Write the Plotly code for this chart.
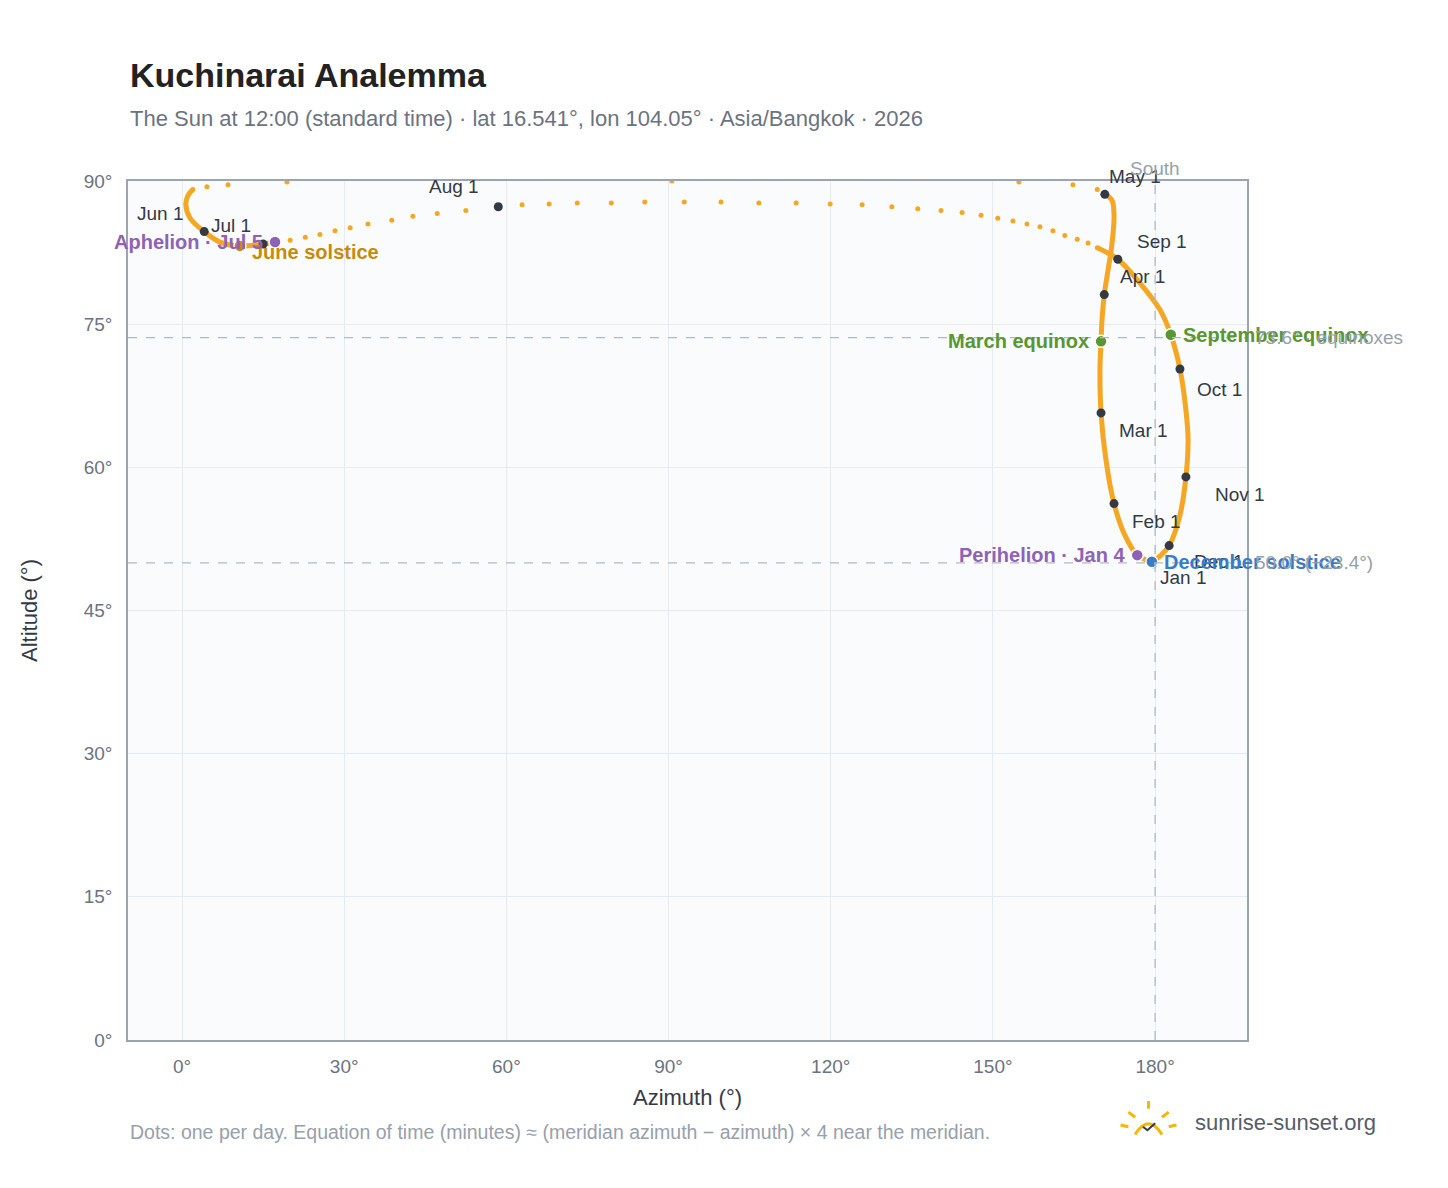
import plotly.graph_objects as go

# daily noon sun positions (azimuth, altitude)
dense_left_az = [179.4, 176.7, 174.4, 172.4, 170.9, 170.0, 169.8, 170.0, 170.2, 170.6, 171.3, 172.0, 172.4, 172.0, 170.7]
dense_left_alt = [50.1, 50.8, 52.9, 56.2, 60.8, 65.7, 70.2, 73.2, 75.6, 78.1, 80.7, 83.3, 86.4, 88.0, 88.6]
may_az = [169.3, 164.8, 154.8, 90.6, 19.4, 8.5, 4.6, 2.0]
may_alt = [89.1, 89.6, 89.9, 90.0, 89.9, 89.6, 89.4, 89.1]
curl_az = [2.0, 1.1, 0.7, 1.5, 4.1, 7.0, 10.7, 15.0, 17.2]
curl_alt = [89.1, 88.5, 87.5, 86.1, 84.7, 83.6, 83.2, 83.4, 83.6]
summer_az = [20.0, 22.8, 25.5, 28.3, 31.1, 34.4, 38.8, 42.7, 47.2, 52.5, 58.5, 62.9, 67.9, 73.1, 79.4,
             85.6, 92.9, 99.7, 106.7, 113.6, 119.9, 125.8, 131.3, 136.1, 140.4, 144.3, 147.8, 150.9,
             153.7, 156.3, 158.7, 161.1, 163.3, 165.6, 167.6, 169.3]
summer_alt = [83.8, 84.1, 84.4, 84.8, 85.1, 85.5, 85.9, 86.3, 86.6, 86.9, 87.3, 87.5, 87.6, 87.7, 87.7,
              87.8, 87.8, 87.8, 87.7, 87.7, 87.6, 87.5, 87.3, 87.1, 86.9, 86.7, 86.4, 86.1,
              85.8, 85.5, 85.2, 84.8, 84.3, 83.9, 83.5, 83.0]
dense_right_az = [169.3, 173.1, 177.2, 180.9, 182.9, 184.6, 185.7, 186.1, 185.7, 184.6, 182.6, 180.9, 179.4]
dense_right_alt = [83.0, 81.8, 79.3, 76.5, 73.9, 70.3, 66.0, 62.9, 59.0, 55.0, 51.8, 50.7, 50.1]

months = ["Jan 1", "Feb 1", "Mar 1", "Apr 1", "May 1", "Jun 1", "Jul 1", "Aug 1", "Sep 1", "Oct 1", "Nov 1", "Dec 1"]
month_az = [179.6, 172.4, 170.0, 170.6, 170.7, 4.1, 15.0, 58.5, 173.1, 184.6, 185.7, 182.6]
month_alt = [49.9, 56.2, 65.7, 78.1, 88.6, 84.7, 83.4, 87.3, 81.8, 70.3, 59.0, 51.8]
# label offsets (px) for month labels
month_dx = [30, 42, 42, 38, 30, -44, -32, -44, 44, 40, 54, 50]
month_dy = [14, 18, 18, -18, -18, -18, -18, -20, -18, 20, 18, 16]

events = ["March equinox", "September equinox", "June solstice", "December solstice", "Perihelion · Jan 4", "Aphelion · Jul 5"]
event_az = [170.0, 182.9, 10.7, 179.4, 176.7, 17.2]
event_alt = [73.2, 73.9, 83.2, 50.1, 50.8, 83.6]
event_colors = ["#5a9632", "#5a9632", "#c98a0c", "#3a7bc8", "#8e63b5", "#8e63b5"]
event_anchor = ["right", "left", "left", "left", "right", "right"]
event_dx = [-10, 10, 10, 10, -10, -10]
event_dy = [0, 0, 6, 0, 0, 0]

equinox_alt = 73.6
dec_alt = 50.0

ORANGE = "#f5a623"
fig = go.Figure()
for az, alt in [(dense_left_az, dense_left_alt), (curl_az, curl_alt), (dense_right_az, dense_right_alt)]:
    fig.add_trace(go.Scatter(x=az, y=alt, mode="lines", line=dict(color=ORANGE, width=5, shape="spline"),
                             hoverinfo="skip", showlegend=False))
fig.add_trace(go.Scatter(x=may_az + summer_az, y=may_alt + summer_alt, mode="markers",
                         marker=dict(color=ORANGE, size=5), showlegend=False))

fig.add_hline(y=equinox_alt, line=dict(color="#b0bac5", width=1.3, dash="dash"))
fig.add_hline(y=dec_alt, line=dict(color="#b0bac5", width=1.3, dash="dash"))
fig.add_vline(x=180, line=dict(color="#b0bac5", width=1.3, dash="dash"))

fig.add_trace(go.Scatter(x=month_az, y=month_alt, mode="markers",
                         marker=dict(color="#333a44", size=9), showlegend=False))
fig.add_trace(go.Scatter(x=event_az, y=event_alt, mode="markers",
                         marker=dict(color=event_colors, size=12, line=dict(color="white", width=1.5)),
                         showlegend=False))

for m, x, y, dx, dy in zip(months, month_az, month_alt, month_dx, month_dy):
    fig.add_annotation(x=x, y=y, text=m, showarrow=False, xshift=dx, yshift=-dy,
                       font=dict(size=19, color="#333a44"))
for e, x, y, c, a, dx, dy in zip(events, event_az, event_alt, event_colors, event_anchor, event_dx, event_dy):
    fig.add_annotation(x=x, y=y, text="<b>%s</b>" % e, showarrow=False, xanchor=a, xshift=dx, yshift=-dy,
                       font=dict(size=20, color=c))

fig.add_annotation(x=1.005, xref="paper", y=equinox_alt, text="73.6° · equinoxes", showarrow=False,
                   xanchor="left", font=dict(size=19, color="#97a0ab"))
fig.add_annotation(x=1.005, xref="paper", y=dec_alt, text="50.0° (−23.4°)", showarrow=False,
                   xanchor="left", font=dict(size=19, color="#97a0ab"))
fig.add_annotation(x=180, y=1.0, yref="paper", text="South", showarrow=False, yanchor="bottom",
                   font=dict(size=19, color="#97a0ab"))

fig.add_annotation(x=0, xref="paper", y=1.148, yref="paper", xanchor="left", showarrow=False,
                   text="<b>Kuchinarai Analemma</b>", font=dict(size=34, color="#222"))
fig.add_annotation(x=0, xref="paper", y=1.09, yref="paper", xanchor="left", showarrow=False,
                   text="The Sun at 12:00 (standard time) · lat 16.541°, lon 104.05° · Asia/Bangkok · 2026",
                   font=dict(size=22, color="#6b7380"))
fig.add_annotation(x=0, xref="paper", y=-0.122, yref="paper", xanchor="left", showarrow=False,
                   text="Dots: one per day. Equation of time (minutes) ≈ (meridian azimuth − azimuth) × 4 near the meridian.",
                   font=dict(size=19.5, color="#97a0ab"))
fig.add_annotation(x=1.117, xref="paper", y=-0.113, yref="paper", xanchor="right", showarrow=False,
                   text="sunrise-sunset.org", font=dict(size=22, color="#555d68"))
# little sun logo
fig.add_shape(type="path", xref="paper", yref="paper",
              path="M 0.900 -0.110 Q 0.912 -0.085 0.924 -0.110", line=dict(color="#f5b700", width=3))
for x0, y0, x1, y1 in [(0.912, -0.080, 0.912, -0.071), (0.900, -0.090, 0.894, -0.084),
                       (0.924, -0.090, 0.930, -0.084), (0.894, -0.101, 0.887, -0.099),
                       (0.930, -0.101, 0.937, -0.099)]:
    fig.add_shape(type="line", xref="paper", yref="paper", x0=x0, y0=y0, x1=x1, y1=y1,
                  line=dict(color="#f5b700", width=3))
fig.add_shape(type="path", xref="paper", yref="paper",
              path="M 0.907 -0.101 L 0.911 -0.105 L 0.918 -0.097", line=dict(color="#333a44", width=2))

ticks = [0, 30, 60, 90, 120, 150, 180]
yticks = [0, 15, 30, 45, 60, 75, 90]
fig.update_xaxes(title=dict(text="Azimuth (°)", font=dict(size=22, color="#333a44"), standoff=14), range=[-10, 197],
                 tickvals=ticks, ticktext=["%d°" % t for t in ticks], showgrid=True, gridcolor="#e6ebf0",
                 zeroline=False, showline=True, linecolor="#9aa5b1", linewidth=1.5, mirror=True,
                 ticks="outside", ticklen=8, tickcolor="rgba(0,0,0,0)",
                 tickfont=dict(size=19, color="#6b7380"))
fig.update_yaxes(title=dict(text="Altitude (°)", font=dict(size=22, color="#333a44"), standoff=40), range=[0, 90],
                 tickvals=yticks, ticktext=["%d°" % t for t in yticks], showgrid=True, gridcolor="#e6ebf0",
                 zeroline=False, showline=True, linecolor="#9aa5b1", linewidth=1.5, mirror=True,
                 ticks="outside", ticklen=10, tickcolor="rgba(0,0,0,0)",
                 tickfont=dict(size=19, color="#6b7380"))
fig.update_layout(width=1448, height=1188, margin=dict(l=120, r=209, t=173, b=156),
                  plot_bgcolor="#f9fbfd", paper_bgcolor="white",
                  font=dict(family="Liberation Sans, Arial, sans-serif"))
fig.write_html("out.html")
